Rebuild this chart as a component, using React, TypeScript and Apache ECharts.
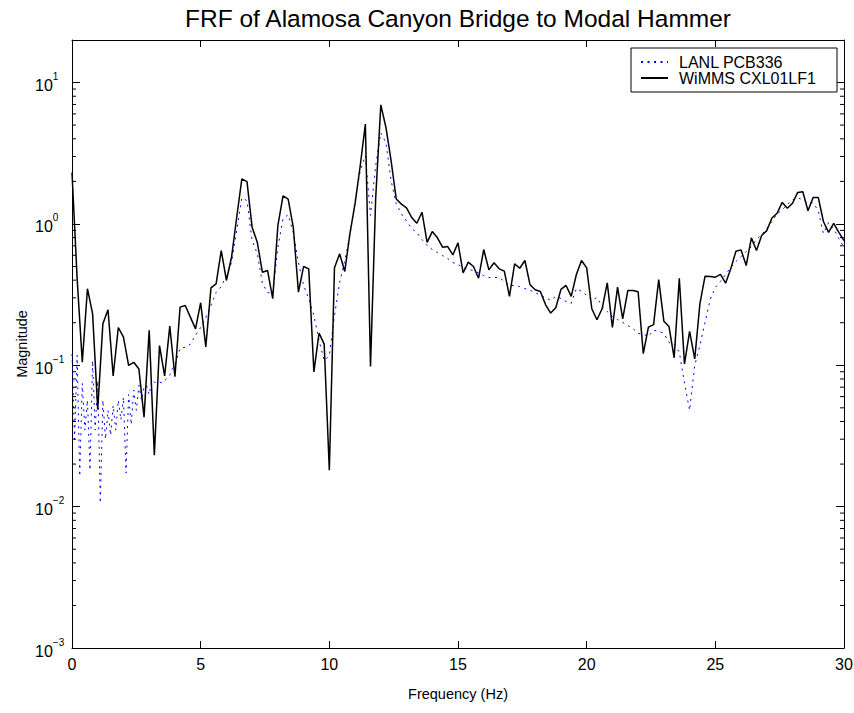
import React, { useEffect, useRef } from "react";
import * as echarts from "echarts";

const TITLE = "FRF of Alamosa Canyon Bridge to Modal Hammer";
const X_NAME = "Frequency (Hz)";
const Y_NAME = "Magnitude";
const SERIES_NAMES = ["LANL PCB336", "WiMMS CXL01LF1"];
const xTicks = [0, 5, 10, 15, 20, 25, 30];

// WiMMS CXL01LF1 magnitude, sampled every 0.2 Hz from 0 to 30 Hz
const WIMMS_DF = 0.2;
const wimmsMag = [
  2.31, 0.41, 0.105, 0.348, 0.232, 0.0486, 0.197, 0.247, 0.084, 0.185,
  0.158, 0.1, 0.105, 0.094, 0.043, 0.177, 0.0231, 0.138, 0.084, 0.189,
  0.083, 0.258, 0.265, 0.219, 0.181, 0.277, 0.135, 0.353, 0.377, 0.648,
  0.398, 0.581, 1.11, 2.08, 1.99, 0.946, 0.741, 0.455, 0.468, 0.296,
  0.973, 1.58, 1.5, 0.946, 0.329, 0.5, 0.481, 0.0897, 0.169, 0.141,
  0.0181, 0.489, 0.614, 0.461, 0.853, 1.39, 2.58, 5.08, 0.098, 1.5,
  6.95, 4.81, 2.8, 1.5, 1.38, 1.3, 1.11, 1.01, 1.21, 0.741,
  0.883, 0.797, 0.684, 0.691, 0.604, 0.734, 0.451, 0.536, 0.5, 0.413,
  0.659, 0.473, 0.531, 0.481, 0.463, 0.307, 0.522, 0.486, 0.551, 0.371,
  0.342, 0.333, 0.269, 0.234, 0.255, 0.344, 0.367, 0.307, 0.439, 0.551,
  0.489, 0.251, 0.21, 0.251, 0.383, 0.185, 0.357, 0.213, 0.338, 0.338,
  0.331, 0.121, 0.186, 0.194, 0.404, 0.205, 0.188, 0.113, 0.413, 0.102,
  0.174, 0.111, 0.272, 0.427, 0.425, 0.42, 0.439, 0.381, 0.481, 0.641,
  0.655, 0.508, 0.797, 0.648, 0.827, 0.897, 1.1, 1.19, 1.42, 1.29,
  1.4, 1.67, 1.69, 1.24, 1.54, 1.54, 1.04, 0.872, 1.01, 0.872,
  0.762,
];

// LANL PCB336 magnitude: 0.1 Hz steps from 0 to 4.0 Hz ...
const LANL_LOW_DF = 0.1;
const lanlLowMag = [
  0.12, 0.03, 0.118, 0.0164, 0.0746, 0.0348, 0.0566, 0.0181, 0.108, 0.0348,
  0.078, 0.0106, 0.0566, 0.03, 0.048, 0.032, 0.052, 0.0348, 0.0566, 0.041,
  0.0594, 0.0173, 0.062, 0.038, 0.0667, 0.048, 0.0722, 0.0566, 0.07, 0.072,
  0.062, 0.078, 0.076, 0.075, 0.076, 0.075, 0.078, 0.081, 0.085, 0.095,
  0.1,
];
// ... then 0.2 Hz steps from 4.2 to 30 Hz
const LANL_HIGH_START = 4.2;
const LANL_HIGH_DF = 0.2;
const lanlHighMag = [
  0.132, 0.134, 0.141, 0.163, 0.185, 0.218, 0.265, 0.327, 0.361, 0.431,
  0.533, 0.897, 1.53, 1.46, 0.762, 0.617, 0.379, 0.327, 0.322, 0.68,
  1.09, 1.16, 0.868, 0.533, 0.367, 0.297, 0.225, 0.15, 0.108, 0.117,
  0.225, 0.385, 0.551, 0.827, 1.46, 2.38, 3.04, 1.15, 2.58, 4.41,
  3.75, 2.02, 1.39, 1.18, 1.05, 0.927, 0.868, 0.775, 0.703, 0.659,
  0.627, 0.597, 0.569, 0.533, 0.516, 0.492, 0.476, 0.468, 0.45, 0.431,
  0.418, 0.418, 0.418, 0.392, 0.367, 0.367, 0.36, 0.349, 0.34, 0.327,
  0.312, 0.302, 0.288, 0.307, 0.297, 0.283, 0.274, 0.349, 0.333, 0.312,
  0.288, 0.302, 0.261, 0.24, 0.222, 0.211, 0.201, 0.191, 0.182, 0.168,
  0.166, 0.16, 0.177, 0.174, 0.168, 0.145, 0.141, 0.124, 0.075, 0.048,
  0.1, 0.138, 0.201, 0.292, 0.355, 0.392, 0.439, 0.492, 0.542, 0.588,
  0.637, 0.691, 0.775, 0.84, 0.927, 1.04, 1.18, 1.26, 1.37, 1.48,
  1.53, 1.48, 1.41, 1.41, 1.24, 0.855, 1.02, 0.927, 0.788, 0.68,
];

const FONT = "'Liberation Sans', Arial, Helvetica, sans-serif";
const Y_MIN = 0.001;
const Y_MAX = 20;
const X_MIN = 0;
const X_MAX = 30;

const round = (v: number) => Math.round(v * 1000) / 1000;

export default function App() {
  const ref = useRef<HTMLDivElement>(null);

  useEffect(() => {
    if (!ref.current) return;
    const chart = echarts.init(ref.current, undefined, { renderer: "svg" });

    const wimmsData = wimmsMag.map((v, i) => [round(i * WIMMS_DF), v]);
    const lanlData = [
      ...lanlLowMag.map((v, i) => [round(i * LANL_LOW_DF), v]),
      ...lanlHighMag.map((v, i) => [round(LANL_HIGH_START + i * LANL_HIGH_DF), v]),
    ];

    // minor log ticks (2..9 x 10^n)
    const minorTicks: number[][] = [];
    for (let e = -3; e <= 1; e++) {
      for (let m = 2; m <= 9; m++) {
        const v = m * Math.pow(10, e);
        if (v < Y_MAX) minorTicks.push([0, v]);
      }
    }

    const yLabel = (v: number) => {
      const lg = Math.log10(v);
      const e = Math.round(lg);
      if (Math.abs(lg - e) > 0.01) return "";
      const exp = e < 0 ? "\u2212" + Math.abs(e) : String(e);
      return "{b|10}{s|" + exp + "}";
    };

    const axisLineStyle = { color: "#000", width: 1 };

    chart.setOption({
      animation: false,
      backgroundColor: "#fff",
      title: {
        text: TITLE,
        left: 458,
        top: 6,
        textAlign: "center",
        padding: 0,
        textStyle: {
          fontFamily: FONT,
          fontSize: 24.5,
          fontWeight: "normal",
          color: "#000",
        },
      },
      grid: {
        left: 72,
        right: 10,
        top: 40,
        bottom: 65,
        containLabel: false,
        outerBoundsMode: "none",
      },
      legend: {
        data: SERIES_NAMES,
        orient: "vertical",
        left: 631,
        top: 48,
        backgroundColor: "#fff",
        borderColor: "#000",
        borderWidth: 1,
        borderRadius: 0,
        padding: [6, 6, 6, 9],
        itemGap: 0,
        itemWidth: 27,
        itemHeight: 14,
        itemStyle: { opacity: 0, borderWidth: 0 },
        textStyle: {
          fontFamily: FONT,
          fontSize: 16,
          color: "#000",
          lineHeight: 15,
          width: 152,
          padding: [0, 0, 0, 6],
        },
      },
      xAxis: [
        {
          type: "value",
          min: X_MIN,
          max: X_MAX,
          interval: xTicks[1] - xTicks[0],
          position: "bottom",
          axisLine: { show: true, onZero: false, lineStyle: axisLineStyle },
          axisTick: { show: true, inside: true, length: 7, lineStyle: { color: "#000" } },
          axisLabel: {
            fontFamily: FONT,
            fontSize: 16,
            color: "#000",
            margin: 8,
          },
          splitLine: { show: false },
          name: X_NAME,
          nameLocation: "middle",
          nameGap: 38,
          nameMoveOverlap: false,
          nameTextStyle: { fontFamily: FONT, fontSize: 14.5, color: "#000" },
        },
        {
          type: "value",
          min: X_MIN,
          max: X_MAX,
          interval: xTicks[1] - xTicks[0],
          position: "top",
          axisLine: { show: true, onZero: false, lineStyle: axisLineStyle },
          axisTick: { show: true, inside: true, length: 7, lineStyle: { color: "#000" } },
          axisLabel: { show: false },
          splitLine: { show: false },
        },
      ],
      yAxis: [
        {
          type: "log",
          logBase: 10,
          min: Y_MIN,
          max: Y_MAX,
          position: "left",
          axisLine: { show: true, onZero: false, lineStyle: axisLineStyle },
          axisTick: { show: true, inside: true, length: 8, lineStyle: { color: "#000" } },
          axisLabel: {
            formatter: yLabel,
            align: "left",
            margin: 37,
            showMaxLabel: false,
            rich: {
              b: {
                fontFamily: FONT,
                fontSize: 16,
                lineHeight: 22,
                verticalAlign: "bottom",
                color: "#000",
              },
              s: {
                fontFamily: FONT,
                fontSize: 10,
                lineHeight: 10,
                verticalAlign: "top",
                color: "#000",
              },
            },
          },
          splitLine: { show: false },
          minorTick: { show: false },
          name: Y_NAME,
          nameLocation: "middle",
          nameRotate: 90,
          nameGap: 43,
          nameMoveOverlap: false,
          nameTextStyle: { fontFamily: FONT, fontSize: 14.5, color: "#000" },
        },
        {
          type: "log",
          logBase: 10,
          min: Y_MIN,
          max: Y_MAX,
          position: "right",
          axisLine: { show: true, onZero: false, lineStyle: axisLineStyle },
          axisTick: { show: true, inside: true, length: 8, lineStyle: { color: "#000" } },
          axisLabel: { show: false },
          splitLine: { show: false },
        },
      ],
      series: [
        {
          name: SERIES_NAMES[0],
          type: "line",
          data: lanlData,
          symbol: "none",
          showSymbol: false,
          smooth: false,
          lineStyle: { color: "#0000ff", width: 1, type: [2, 4.5] },
          itemStyle: { color: "#0000ff" },
          z: 3,
        },
        {
          name: SERIES_NAMES[1],
          type: "line",
          data: wimmsData,
          symbol: "none",
          showSymbol: false,
          smooth: false,
          lineStyle: { color: "#000", width: 1.5, type: "solid" },
          itemStyle: { color: "#000" },
          z: 4,
        },
        {
          name: "minorTicks",
          type: "custom",
          data: minorTicks,
          silent: true,
          clip: false,
          z: 5,
          renderItem: (params: any, api: any) => {
            const v = api.value(1);
            const pL = api.coord([X_MIN, v]);
            const pR = api.coord([X_MAX, v]);
            const style = { stroke: "#000", lineWidth: 1 };
            return {
              type: "group",
              children: [
                { type: "line", shape: { x1: pL[0], y1: pL[1], x2: pL[0] + 4, y2: pL[1] }, style },
                { type: "line", shape: { x1: pR[0] - 4, y1: pR[1], x2: pR[0], y2: pR[1] }, style },
              ],
            };
          },
        },
      ],
    });

    return () => chart.dispose();
  }, []);

  return (
    <div
      ref={ref}
      style={{ position: "fixed", left: 0, top: 0, width: 854, height: 713 }}
    />
  );
}
